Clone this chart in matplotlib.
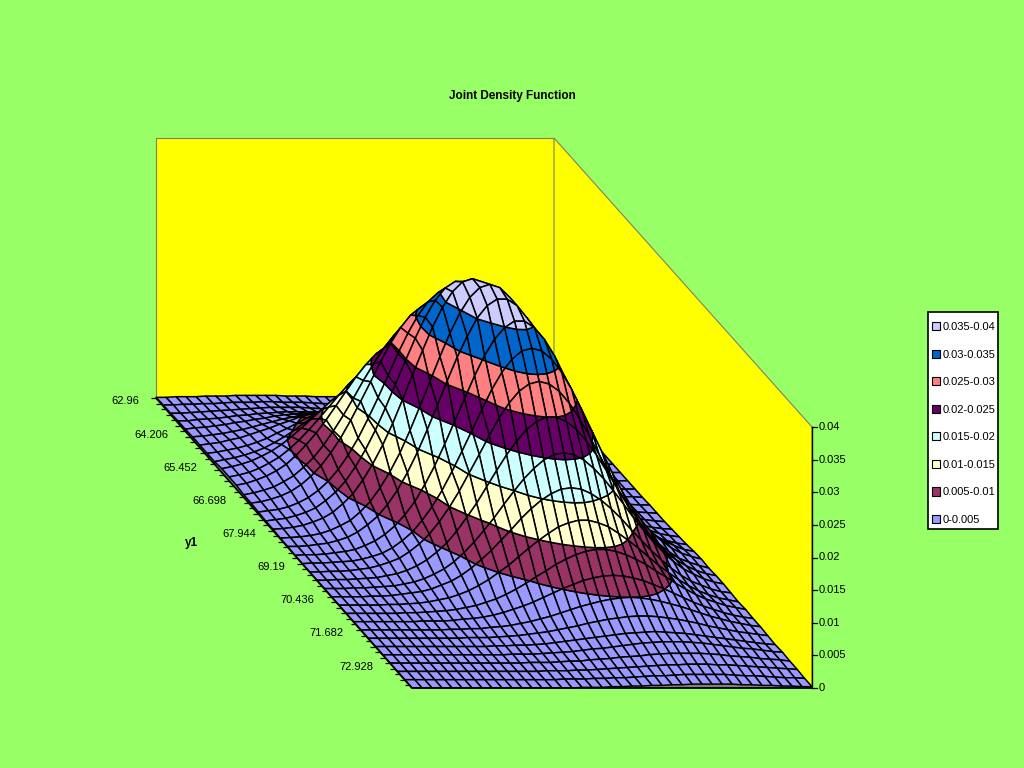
import matplotlib
matplotlib.use("Agg")
import matplotlib.pyplot as plt
import numpy as np
from matplotlib.collections import PolyCollection, LineCollection
from matplotlib.patches import Patch, Polygon, Rectangle

plt.rcParams['font.family'] = ['Liberation Sans', 'DejaVu Sans']

title = "Joint Density Function"
y1_axis_label = "y1"
y1_tick_values = [62.96, 64.206, 65.452, 66.698, 67.944, 69.19, 70.436, 71.682, 72.928]
y1_tick_labels = ["62.96", "64.206", "65.452", "66.698", "67.944", "69.19", "70.436", "71.682", "72.928"]
y1_step = 0.3115
y1_minor_step = 1.246 / 6
z_tick_values = [0, 0.005, 0.01, 0.015, 0.02, 0.025, 0.03, 0.035, 0.04]
z_tick_labels = ["0", "0.005", "0.01", "0.015", "0.02", "0.025", "0.03", "0.035", "0.04"]
band_labels = ["0-0.005", "0.005-0.01", "0.01-0.015", "0.015-0.02",
               "0.02-0.025", "0.025-0.03", "0.03-0.035", "0.035-0.04"]
band_edges = [0, 0.005, 0.01, 0.015, 0.02, 0.025, 0.03, 0.035, 0.04]
band_colors = ["#9999FF", "#993366", "#FFFFCC", "#CCFFFF",
               "#660066", "#FF8080", "#0066CC", "#CCCCFF"]

# Surface heights in units of 0.0001; one list per y1 step. Not read cell by cell:
# worked out by hand from a bell shape fitted to the picture's contours, then adjusted
# to fit. This grid is coarser than the reference's mesh.
density_rows = [
 [1,1,2,2,2,3,3,3,4,4,4,4,4,3,3,3,2,2,2,1,1,1,1]+[0]*18,
 [2,2,3,3,4,4,5,6,6,6,7,7,6,6,6,5,4,4,3,3,2,2,1,1,1]+[0]*16,
 [2,2,3,4,5,6,7,8,9,10,11,11,11,11,10,9,8,7,6,5,4,3,2,2,1,1,1]+[0]*14,
 [3,3,5,6,7,9,11,12,14,15,16,17,17,17,16,15,14,12,11,9,7,6,5,3,3,2,1,1,1]+[0]*12,
 [3,5,6,8,10,13,15,18,20,23,25,26,27,27,26,25,23,20,18,15,13,10,8,6,5,3,2,2,1,1]+[0]*11,
 [4,5,7,9,12,15,19,23,27,31,34,37,39,40,40,39,37,34,31,27,23,19,15,12,9,7,5,4,2,2,1,1]+[0]*9,
 [4,6,8,12,15,20,25,30,36,41,47,51,55,57,58,57,55,51,47,41,36,30,25,20,15,12,8,6,4,3,2,1,1]+[0]*8,
 [4,6,9,12,16,21,27,35,42,50,58,65,72,77,80,81,80,77,72,65,58,50,42,35,27,21,16,12,9,6,4,3,2,1,1]+[0]*6,
 [4,7,10,14,19,25,33,42,52,63,73,84,93,101,107,110,110,107,101,93,84,73,63,52,42,33,25,19,14,10,7,4,3,2,1,1]+[0]*5,
 [6,9,13,18,25,33,43,55,68,82,96,110,122,132,140,144,144,140,132,122,110,96,82,68,55,43,33,25,18,13,9,6,4,2,1,1,1]+[0]*4,
 [6,9,13,19,27,36,48,62,78,95,113,131,148,162,173,181,183,181,173,162,148,131,113,95,78,62,48,36,27,19,13,9,6,4,2,1,1,1]+[0]*3,
 [6,9,14,20,28,38,52,68,86,106,128,150,172,191,207,218,224,224,218,207,191,172,150,128,106,86,68,52,38,28,20,14,9,6,4,2,1,1]+[0]*3,
 [4,7,11,16,24,33,46,61,80,102,126,152,179,204,228,247,260,267,267,260,247,228,204,179,152,126,102,80,61,46,33,24,16,11,7,4,3,2,1,1,0],
 [4,6,10,15,22,32,45,61,81,104,131,160,190,221,249,273,292,304,308,304,292,273,249,221,190,160,131,104,81,61,45,32,22,15,10,6,4,2,2,1,1],
 [3,5,7,11,17,25,36,50,68,90,116,146,178,212,246,277,304,325,339,343,339,325,304,277,246,212,178,146,116,90,68,50,36,25,17,11,7,5,3,2,1],
 [2,4,6,10,15,22,33,46,63,85,111,141,175,211,247,282,314,340,359,369,369,359,340,314,282,247,211,175,141,111,85,63,46,33,22,15,10,6,4,2,1],
 [2,3,5,8,13,19,28,41,56,77,102,131,164,201,239,276,312,342,366,381,386,381,366,342,312,276,239,201,164,131,102,77,56,41,28,19,13,8,5,3,2],
 [1,2,3,5,8,13,20,28,41,57,78,103,132,166,203,241,279,315,346,370,385,390,385,370,346,315,279,241,203,166,132,103,78,57,41,28,20,13,8,5,3],
 [1,1,2,4,6,10,15,23,34,47,65,87,114,145,180,217,255,291,323,351,370,380,380,370,351,323,291,255,217,180,145,114,87,65,47,34,23,15,10,6,4],
 [0,1,1,2,4,6,9,15,22,32,45,62,82,108,137,170,205,240,275,306,331,349,359,359,349,331,306,275,240,205,170,137,108,82,62,45,32,22,15,9,6],
 [0,1,1,2,3,4,7,11,16,24,35,48,66,87,112,141,172,204,236,267,293,313,326,330,326,313,293,267,236,204,172,141,112,87,66,48,35,24,16,11,7],
 [0,0,1,1,2,4,6,10,15,21,31,43,58,77,99,124,152,180,209,236,259,277,288,292,288,277,259,236,209,180,152,124,99,77,58,43,31,21,15,10,6],
 [0,0,1,1,2,3,4,7,10,15,22,31,43,57,75,96,118,143,168,192,213,231,243,250,250,243,231,213,192,168,143,118,96,75,57,43,31,22,15,10,7],
 [0,0,0,1,1,2,3,4,7,10,15,22,30,41,55,71,89,108,129,149,168,184,197,205,208,205,197,184,168,149,129,108,89,71,55,41,30,22,15,10,7],
 [0]*4+[1,1,2,4,6,8,12,18,24,33,44,57,71,87,103,120,135,148,158,165,167,165,158,148,135,120,103,87,71,57,44,33,24,18,12,8,6],
 [0]*5+[1,1,2,3,5,8,11,16,22,30,39,50,61,74,87,99,110,120,126,130,130,126,120,110,99,87,74,61,50,39,30,22,16,11,8,5],
 [0]*6+[1,1,2,3,4,6,9,12,17,22,29,37,46,56,65,75,83,90,95,98,98,95,90,83,75,65,56,46,37,29,22,17,12,9,6],
 [0]*7+[1,1,1,2,4,5,7,10,14,19,24,30,37,44,51,57,63,67,70,71,70,67,63,57,51,44,37,30,24,19,14,10,7,5],
 [0]*9+[1,1,2,2,4,5,7,10,13,17,21,26,31,36,40,44,47,49,50,49,47,44,40,36,31,26,21,17,13,10,7,5],
 [0]*10+[1,1,1,2,3,4,6,8,10,13,16,19,23,26,29,31,33,34,34,33,31,29,26,23,19,16,13,10,8,6,4],
 [0]*12+[1,1,2,2,3,4,6,8,10,12,14,16,18,20,21,22,23,22,21,20,18,16,14,12,10,8,6,4,3],
 [0]*13+[1,1,1,2,3,4,5,7,9,10,12,14,16,18,19,20,20,20,19,18,16,14,12,10,9,7,5,4],
 [0]*14+[1,1,1,2,3,3,5,6,7,9,10,11,13,14,15,15,15,15,14,13,11,10,9,7,6,5,3],
 [0]*15+[1,1,1,2,2,3,4,5,6,7,8,9,10,10,11,11,11,10,10,9,8,7,6,5,4,3],
 [0]*16+[1,1,1,2,2,3,3,4,5,6,6,7,8,8,8,8,8,7,6,6,5,4,3,3,2],
 [0]*17+[1,1,1,2,2,3,3,4,4,5,5,6,6,6,6,6,5,5,4,4,3,3,2,2],
]
density = np.array(density_rows) * 1e-4

# Oblique 3D box placement in figure pixels
BACK_LEFT = (156.0, 398.0)
BACK_W = 398.0
FRONT_W = 400.0
BOX_SHEAR_X = 256.0
BOX_DEPTH_Y = 290.0
Z_PX = 6525.0
n_rows, n_cols = density.shape


def project(col, row, z):
    s = col / (n_cols - 1)
    t = row / (n_rows - 1)
    return (BACK_LEFT[0] + t * BOX_SHEAR_X + s * (BACK_W + t * (FRONT_W - BACK_W)),
            BACK_LEFT[1] + t * BOX_DEPTH_Y - z * Z_PX)


def clip_z(poly, level, keep_above):
    out = []
    for i in range(len(poly)):
        a, b = poly[i], poly[(i + 1) % len(poly)]
        ina = a[2] >= level if keep_above else a[2] <= level
        inb = b[2] >= level if keep_above else b[2] <= level
        if ina:
            out.append(a)
        if ina != inb:
            f = (level - a[2]) / (b[2] - a[2])
            out.append((a[0] + f * (b[0] - a[0]), a[1] + f * (b[1] - a[1]), level))
    return out


BG = "#99FF66"
fig = plt.figure(figsize=(10.24, 7.68), dpi=100, facecolor=BG)
ax = fig.add_axes([0, 0, 1, 1])
ax.set_xlim(0, 1024)
ax.set_ylim(768, 0)
ax.axis("off")

last_r, last_c = n_rows - 1, n_cols - 1
ztop = z_tick_values[-1]
wall_h = 260 / Z_PX

# Walls and floor
back_wall = [project(0, 0, 0), project(last_c, 0, 0), project(last_c, 0, wall_h), project(0, 0, wall_h)]
side_wall = [project(last_c, 0, 0), project(last_c, last_r, 0), project(last_c, last_r, ztop), project(last_c, 0, wall_h)]
floor = [project(0, 0, 0), project(last_c, 0, 0), project(last_c, last_r, 0), project(0, last_r, 0)]
for pts in (back_wall, side_wall):
    ax.add_patch(Polygon(pts, closed=True, facecolor="#FFFF00", edgecolor="#808060", lw=0.8, zorder=1))
ax.add_patch(Polygon(floor, closed=True, facecolor="#808080", edgecolor="none", zorder=2))

# Surface, painted from the far cells to the near ones
polys, faces = [], []
for r in range(n_rows - 1):
    for c in range(n_cols - 2, -1, -1):
        quad = [(c, r, density[r, c]), (c + 1, r, density[r, c + 1]),
                (c + 1, r + 1, density[r + 1, c + 1]), (c, r + 1, density[r + 1, c])]
        for b, color in enumerate(band_colors):
            piece = clip_z(quad, band_edges[b], True)
            if len(piece) >= 3:
                piece = clip_z(piece, band_edges[b + 1], False)
            if len(piece) >= 3:
                polys.append([project(*p) for p in piece])
                faces.append(color)
ax.add_collection(PolyCollection(polys, facecolors=faces, edgecolors="black",
                                 linewidths=1.1, zorder=3))

# Axis lines and ticks
axis_kw = dict(color="black", lw=1.3, zorder=4, solid_capstyle="butt")
ax.plot(*zip(project(0, 0, 0), project(0, last_r, 0), project(last_c, last_r, 0)), **axis_kw)
ax.plot(*zip(project(last_c, last_r, 0), project(last_c, last_r, ztop)), color="black", lw=1.0, zorder=4)

left_ticks = []
tick_value = y1_tick_values[0]
y1_end = y1_tick_values[0] + last_r * y1_step
while tick_value <= y1_end:
    x, y = project(0, (tick_value - y1_tick_values[0]) / y1_step, 0)
    left_ticks.append([(x, y), (x - 5, y)])
    tick_value += y1_minor_step
ax.add_collection(LineCollection(left_ticks, colors="black", linewidths=0.9, zorder=4))

for value, label in zip(y1_tick_values, y1_tick_labels):
    x, y = project(0, (value - y1_tick_values[0]) / y1_step, 0)
    ax.text(x - 17, y + 3.5, label, ha="right", va="center", fontsize=8, color="black")
ax.text(191, 543, y1_axis_label, ha="center", va="center", fontsize=8.5, fontweight="bold")

for value, label in zip(z_tick_values, z_tick_labels):
    x, y = project(last_c, last_r, value)
    ax.plot([x, x + 5], [y, y], color="black", lw=0.9, zorder=4)
    ax.text(x + 7, y, label, ha="left", va="center", fontsize=8, color="black")

ax.text(512, 96, title, ha="center", va="center", fontsize=8.5, fontweight="bold")

# Legend: white box with the band swatches, top band first
ax.add_patch(Rectangle((928, 312), 70, 217, facecolor="white", edgecolor="black", lw=1.2, zorder=5))
handles = [Patch(facecolor=col, edgecolor="black", lw=0.8, label=lab)
           for col, lab in zip(band_colors[::-1], band_labels[::-1])]
leg = ax.legend(handles=handles, loc="upper left",
                bbox_to_anchor=(932 / 1024, 1 - 322 / 768), bbox_transform=fig.transFigure,
                fontsize=8, frameon=False, borderaxespad=0, borderpad=0,
                handlelength=0.68, handleheight=0.75, handletextpad=0.3,
                labelspacing=1.58)
leg.set_zorder(6)

fig.savefig("out.png", dpi=100, facecolor=BG)
